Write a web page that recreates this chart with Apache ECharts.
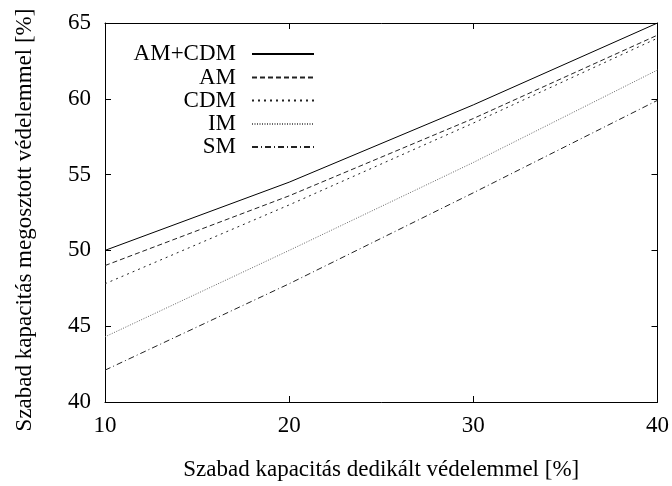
<!DOCTYPE html>
<html>
<head>
<meta charset="utf-8">
<script src="https://cdn.jsdelivr.net/npm/echarts@6/dist/echarts.min.js"></script>
<style>
html,body{margin:0;padding:0;background:#fff;}
#c{width:672px;height:486px;}
</style>
</head>
<body>
<div id="c"></div>
<script>
var xValues = [10, 20, 30, 40];
var seriesNames = ['AM+CDM', 'AM', 'CDM', 'IM', 'SM'];
var amcdm = [50.0, 54.5, 59.6, 65.0];
var am = [49.0, 53.6, 58.7, 64.2];
var cdm = [47.8, 53.0, 58.4, 64.0];
var im = [44.3, 50.0, 55.8, 61.9];
var sm = [42.1, 47.8, 53.8, 59.9];
var xTicks = [10, 20, 30, 40];
var yTicks = [40, 45, 50, 55, 60, 65];
var xLabel = 'Szabad kapacitás dedikált védelemmel [%]';
var yLabel = 'Szabad kapacitás megosztott védelemmel [%]';

var values = [amcdm, am, cdm, im, sm];
var styles = [
  {color: '#000', type: 'solid'},
  {color: '#222', type: [5, 3]},
  {color: '#222', type: [2, 4]},
  {color: '#666', type: [1, 1.5]},
  {color: '#222', type: [6, 3, 1, 3]}
];
var FONT = '"Liberation Serif", "Times New Roman", serif';
var FS = 23;

var series = seriesNames.map(function (n, i) {
  return {
    name: n,
    type: 'line',
    showSymbol: false,
    symbol: 'none',
    silent: true,
    data: xValues.map(function (x, j) { return [x, values[i][j]]; }),
    lineStyle: {color: styles[i].color, width: 1, type: styles[i].type},
    itemStyle: {color: styles[i].color}
  };
});

var rowY = [54.5, 78, 101, 124.5, 147.5];
var legends = seriesNames.map(function (n, i) {
  return {
    data: [n],
    orient: 'vertical',
    align: 'right',
    right: 672 - 315,
    top: rowY[i] - 12,
    itemWidth: 62,
    itemHeight: 14,
    padding: 0,
    selectedMode: false,
    itemStyle: {opacity: 0},
    textStyle: {fontFamily: FONT, fontSize: FS, color: '#000', padding: [0, 11, 0, 0]}
  };
});

var axisCommon = {
  type: 'value',
  splitLine: {show: false},
  axisLine: {show: true, onZero: false, lineStyle: {color: '#000', width: 1}},
  axisTick: {show: true, inside: true, length: 6, lineStyle: {color: '#000'}}
};

var option = {
  animation: false,
  backgroundColor: '#fff',
  grid: {left: 105, right: 14, top: 23, bottom: 73, containLabel: false},
  legend: legends,
  xAxis: [
    Object.assign({}, axisCommon, {
      min: xTicks[0], max: xTicks[xTicks.length - 1], interval: 10,
      position: 'bottom',
      axisLabel: {fontFamily: FONT, fontSize: FS, color: '#000', margin: 12},
      name: xLabel, nameLocation: 'middle', nameGap: 56,
      nameTextStyle: {fontFamily: FONT, fontSize: FS, color: '#000'}
    }),
    Object.assign({}, axisCommon, {
      min: xTicks[0], max: xTicks[xTicks.length - 1], interval: 10,
      position: 'top', axisLabel: {show: false}
    })
  ],
  yAxis: [
    Object.assign({}, axisCommon, {
      min: yTicks[0], max: yTicks[yTicks.length - 1], interval: 5,
      position: 'left',
      axisLabel: {fontFamily: FONT, fontSize: FS, color: '#000', margin: 14}
    }),
    Object.assign({}, axisCommon, {
      min: yTicks[0], max: yTicks[yTicks.length - 1], interval: 5,
      position: 'right', axisLabel: {show: false}
    })
  ],
  graphic: [{
    type: 'text',
    x: 25, y: 220,
    rotation: Math.PI / 2,
    style: {text: yLabel, fontFamily: FONT, fontSize: FS, fill: '#000', align: 'center', verticalAlign: 'middle'}
  }],
  series: series
};

var chart = echarts.init(document.getElementById('c'), null, {renderer: 'canvas'});
chart.setOption(option);
</script>
</body>
</html>
